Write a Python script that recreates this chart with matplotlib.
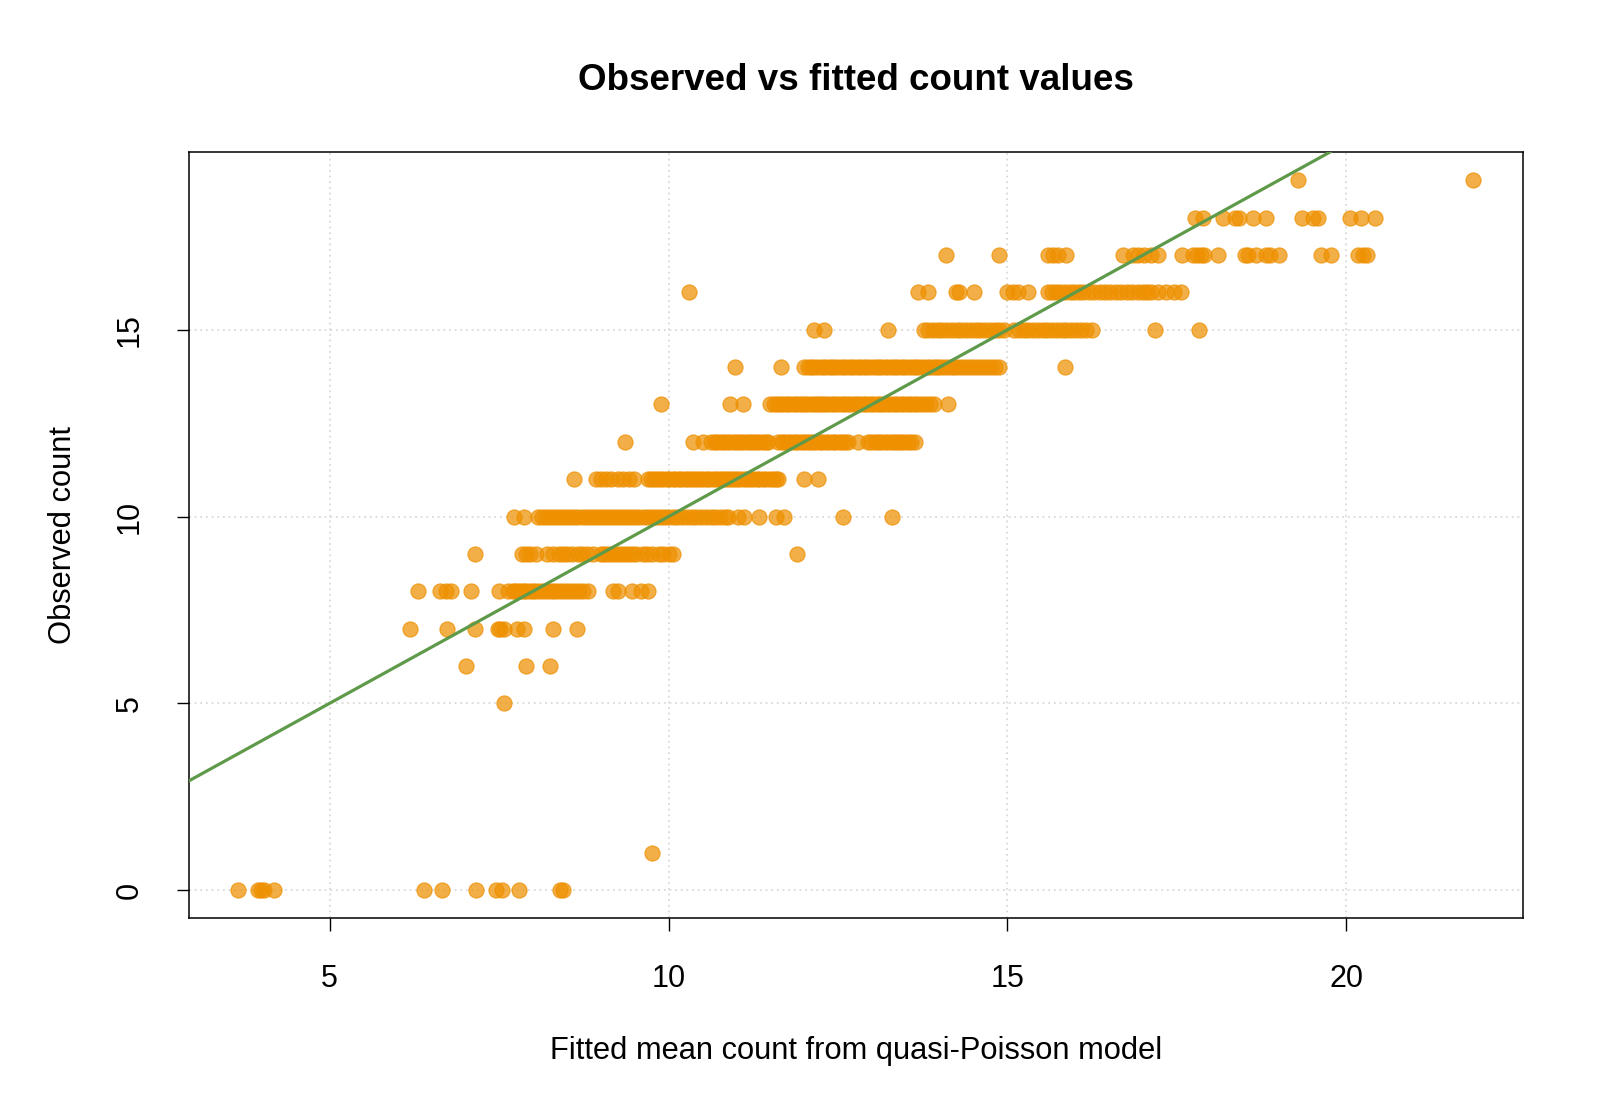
"""Observed vs fitted counts from a quasi-Poisson fit, drawn in the style of an R base plot."""

import matplotlib

matplotlib.use("Agg")
import matplotlib.pyplot as plt
import numpy as np

plt.rcParams["font.family"] = ["Liberation Sans", "DejaVu Sans"]

# fitted mean (x) for each observed count (key)
FITTED_BY_COUNT = {
    0: [3.65, 3.94, 3.99, 4.03, 4.18, 6.39, 6.66, 7.16, 7.46, 7.54, 7.80, 8.40, 8.44],
    1: [9.76],
    5: [7.57],
    6: [7.01, 7.90, 8.25],
    7: [6.18, 6.73, 7.14, 7.48, 7.52, 7.57, 7.77, 7.86, 8.30, 8.65],
    8: [6.31, 6.63, 6.72, 6.79, 7.09, 7.50, 7.63, 7.70, 7.73, 7.78, 7.82, 7.86,
        7.90, 7.95, 8.00, 8.05, 8.10, 8.16, 8.22, 8.28, 8.33, 8.38, 8.44, 8.50,
        8.56, 8.62, 8.68, 8.74, 8.81, 9.18, 9.25, 9.46, 9.60, 9.69],
    9: [7.15, 7.83, 7.90, 7.96, 8.05, 8.20, 8.30, 8.38, 8.44, 8.50, 8.58, 8.66,
        8.72, 8.80, 8.88, 9.00, 9.05, 9.10, 9.16, 9.22, 9.28, 9.34, 9.40, 9.46,
        9.52, 9.62, 9.68, 9.76, 9.86, 9.92, 10.00, 10.07, 11.90],
    10: [7.72, 7.87, 8.07, 8.13, 8.19, 8.25, 8.31, 8.37, 8.43, 8.49, 8.55, 8.61,
         8.67, 8.73, 8.79, 8.85, 8.91, 8.97, 9.03, 9.09, 9.15, 9.21, 9.27, 9.33,
         9.39, 9.45, 9.51, 9.57, 9.63, 9.69, 9.75, 9.81, 9.87, 9.93, 9.99, 10.06,
         10.13, 10.20, 10.27, 10.34, 10.41, 10.48, 10.55, 10.62, 10.69, 10.76,
         10.83, 10.88, 11.03, 11.12, 11.33, 11.59, 11.71, 12.58, 13.30],
    11: [8.61, 8.93, 9.00, 9.08, 9.15, 9.25, 9.33, 9.42, 9.49, 9.70, 9.74, 9.79,
         9.83, 9.88, 9.92, 9.97, 10.01, 10.06, 10.10, 10.15, 10.19, 10.24, 10.28,
         10.33, 10.38, 10.42, 10.47, 10.51, 10.56, 10.60, 10.65, 10.70, 10.74,
         10.79, 10.83, 10.88, 10.92, 10.97, 11.01, 11.06, 11.11, 11.15, 11.20,
         11.25, 11.30, 11.34, 11.39, 11.44, 11.49, 11.54, 11.58, 11.62, 12.00, 12.21],
    12: [9.36, 10.36, 10.51, 10.63, 10.68, 10.72, 10.77, 10.82, 10.86, 10.91,
         10.96, 11.01, 11.05, 11.10, 11.15, 11.20, 11.24, 11.29, 11.34, 11.39,
         11.43, 11.47, 11.62, 11.67, 11.71, 11.76, 11.81, 11.86, 11.90, 11.95,
         12.00, 12.04, 12.09, 12.13, 12.18, 12.23, 12.27, 12.32, 12.37, 12.42,
         12.46, 12.51, 12.56, 12.60, 12.65, 12.80, 12.94, 12.99, 13.04, 13.09,
         13.14, 13.19, 13.24, 13.29, 13.34, 13.39, 13.43, 13.48, 13.53, 13.58, 13.63],
    13: [9.89, 10.90, 11.10, 11.50, 11.55, 11.60, 11.64, 11.69, 11.74, 11.78,
         11.83, 11.88, 11.92, 11.97, 12.02, 12.06, 12.11, 12.16, 12.20, 12.25,
         12.30, 12.34, 12.39, 12.44, 12.49, 12.54, 12.59, 12.63, 12.68, 12.73,
         12.78, 12.83, 12.88, 12.92, 12.97, 13.02, 13.07, 13.12, 13.17, 13.22,
         13.27, 13.32, 13.37, 13.43, 13.48, 13.53, 13.58, 13.63, 13.68, 13.74,
         13.80, 13.86, 13.92, 14.12],
    14: [10.98, 11.66, 12.00, 12.05, 12.10, 12.15, 12.20, 12.26, 12.31, 12.36,
         12.41, 12.46, 12.52, 12.57, 12.62, 12.67, 12.72, 12.78, 12.83, 12.88,
         12.93, 12.98, 13.04, 13.09, 13.14, 13.19, 13.24, 13.29, 13.34, 13.39,
         13.44, 13.49, 13.54, 13.60, 13.65, 13.70, 13.75, 13.81, 13.86, 13.91,
         13.96, 14.01, 14.07, 14.12, 14.18, 14.23, 14.29, 14.34, 14.40, 14.46,
         14.52, 14.58, 14.64, 14.70, 14.76, 14.82, 14.87, 15.85],
    15: [12.14, 12.30, 13.24, 13.77, 13.83, 13.90, 13.97, 14.04, 14.11, 14.18,
         14.25, 14.32, 14.39, 14.46, 14.53, 14.60, 14.67, 14.74, 14.81, 14.88,
         14.95, 15.10, 15.17, 15.24, 15.31, 15.38, 15.45, 15.52, 15.59, 15.66,
         15.73, 15.80, 15.87, 15.94, 16.01, 16.08, 16.16, 16.24, 17.17, 17.82],
    16: [10.30, 13.68, 13.83, 14.24, 14.28, 14.50, 15.00, 15.08, 15.16, 15.30,
         15.60, 15.66, 15.72, 15.78, 15.85, 15.92, 15.98, 16.05, 16.12, 16.20,
         16.28, 16.36, 16.44, 16.52, 16.60, 16.68, 16.76, 16.84, 16.92, 17.00,
         17.06, 17.12, 17.22, 17.34, 17.46, 17.56],
    17: [14.10, 14.88, 15.60, 15.67, 15.75, 15.87, 16.70, 16.85, 16.92, 17.02,
         17.12, 17.22, 17.57, 17.74, 17.80, 17.86, 17.90, 18.11, 18.50, 18.55,
         18.67, 18.82, 18.87, 19.01, 19.63, 19.78, 20.17, 20.25, 20.30],
    18: [17.76, 17.89, 18.18, 18.35, 18.42, 18.62, 18.82, 19.34, 19.51, 19.58,
         20.06, 20.22, 20.42],
    19: [19.29, 21.87],
}

X_TICKS = [5, 10, 15, 20]
Y_TICKS = [0, 5, 10, 15]

POINT = "#ee9000"
LINE = "#5f9a4a"
GRID = "#d3d3d3"

fitted = np.concatenate([np.asarray(v, float) for v in FITTED_BY_COUNT.values()])
observed = np.concatenate([np.full(len(v), k, float) for k, v in FITTED_BY_COUNT.items()])


def r_range(v):
    # R's default 4% axis extension
    lo, hi = v.min(), v.max()
    pad = (hi - lo) * 0.04
    return lo - pad, hi + pad


fig = plt.figure(figsize=(16, 11.08), dpi=100, facecolor="white")
ax = fig.add_axes([188.8 / 1600, 1 - 918.4 / 1108, (1522.5 - 188.8) / 1600, (918.4 - 152) / 1108])

xlim, ylim = r_range(fitted), r_range(observed)
ax.set_xlim(*xlim)
ax.set_ylim(*ylim)

for t in X_TICKS:
    ax.axvline(t, color=GRID, linestyle=(0, (1.2, 2.5)), linewidth=1.1, zorder=1)
for t in Y_TICKS:
    ax.axhline(t, color=GRID, linestyle=(0, (1.2, 2.5)), linewidth=1.1, zorder=1)

ax.scatter(fitted, observed, s=118, color=POINT, alpha=0.72, edgecolors=POINT,
           linewidths=0.9, zorder=2)
ax.axline((0, 0), slope=1, color=LINE, linewidth=2.3, zorder=3)

ax.set_xticks(X_TICKS)
ax.set_yticks(Y_TICKS)
ax.tick_params(axis="both", direction="out", length=9, width=1, labelsize=22, color="black")
ax.tick_params(axis="x", pad=24)
ax.tick_params(axis="y", pad=23, labelrotation=90)
for lab in ax.get_yticklabels():
    lab.set_va("center")
for s in ax.spines.values():
    s.set_linewidth(1.1)

fig.text(0.5 * (188.8 + 1522.5) / 1600, 1 - 80 / 1108, "Observed vs fitted count values",
         ha="center", va="center", fontsize=26.5, fontweight="bold")
fig.text(0.5 * (188.8 + 1522.5) / 1600, 1 - 1051 / 1108,
         "Fitted mean count from quasi-Poisson model", ha="center", va="center", fontsize=22.2)
fig.text(63 / 1600, 1 - 0.5 * (152 + 918.4) / 1108, "Observed count",
         ha="center", va="center", rotation=90, fontsize=22.2)

fig.savefig("out.png", dpi=100, facecolor="white")
